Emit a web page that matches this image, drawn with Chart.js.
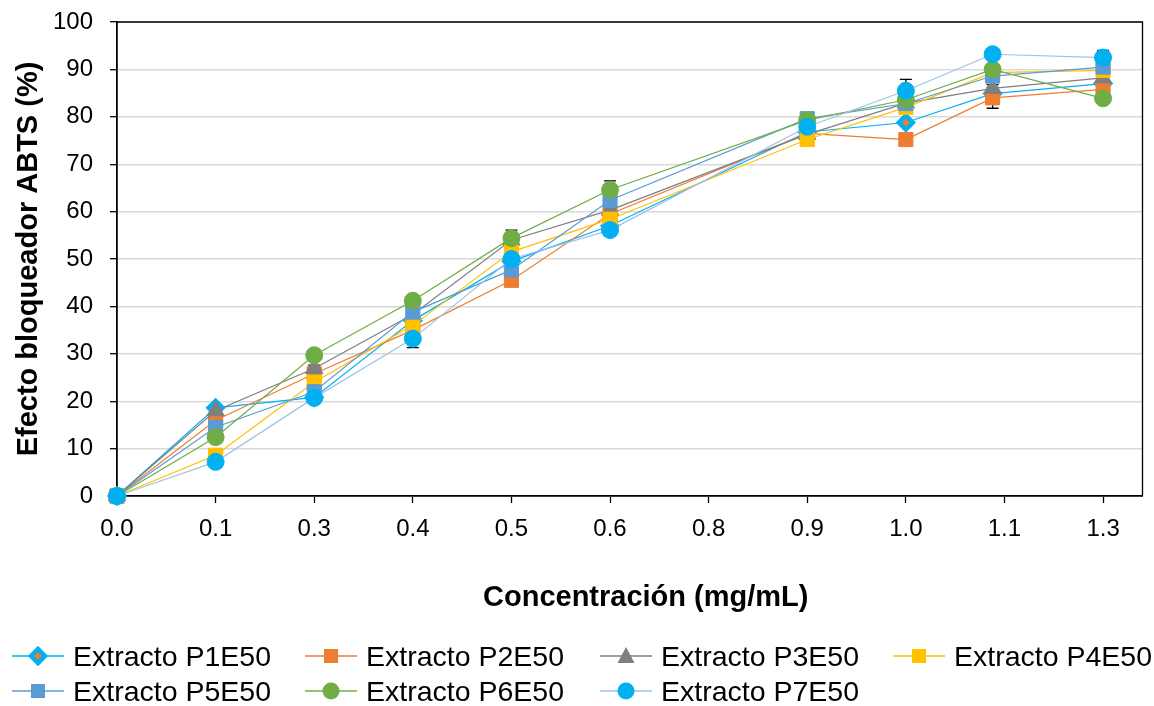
<!DOCTYPE html>
<html><head><meta charset="utf-8">
<script src="https://cdn.jsdelivr.net/npm/chart.js@4.4.1/dist/chart.umd.min.js"></script>
<style>
html,body{margin:0;padding:0;background:#fff;}
#wrap{position:relative;width:1154px;height:706px;overflow:hidden;}
#c{position:absolute;left:0;top:0;}
.lg{position:absolute;display:flex;align-items:center;font-family:'Liberation Sans',Arial,sans-serif;font-size:28.5px;color:#000;white-space:nowrap;height:32px;}
.lg canvas{margin-right:9px;}
</style></head><body>
<div id="wrap"><canvas id="c" width="1154" height="706"></canvas></div>
<script>
// ---- data ----
const concentrations = [0, 0.125, 0.25, 0.375, 0.5, 0.625, 0.875, 1.0, 1.11, 1.25];
const xTickValues = [0, 0.125, 0.25, 0.375, 0.5, 0.625, 0.75, 0.875, 1.0, 1.125, 1.25];
const xTickLabels = ['0.0','0.1','0.3','0.4','0.5','0.6','0.8','0.9','1.0','1.1','1.3'];
const seriesNames = ['Extracto P1E50','Extracto P2E50','Extracto P3E50','Extracto P4E50','Extracto P5E50','Extracto P6E50','Extracto P7E50'];
const p1E50 = [0, 18.6, 20.8, 37.0, 49.5, 57.0, 76.8, 78.8, 84.9, 87.0];
const p2E50 = [0, 16.0, 25.8, 35.0, 45.5, 59.5, 76.5, 75.2, 84.0, 85.8];
const p3E50 = [0, 18.0, 26.9, 38.3, 54.0, 60.3, 76.3, 82.9, 86.0, 88.2];
const p4E50 = [0, 8.6, 24.0, 36.0, 51.5, 58.4, 75.2, 82.0, 89.3, 89.8];
const p5E50 = [0, 14.5, 22.0, 38.8, 47.7, 62.4, 79.6, 82.8, 88.6, 90.5];
const p6E50 = [0, 12.4, 29.7, 41.2, 54.4, 64.6, 79.3, 83.6, 90.0, 83.9];
const p7E50 = [0, 7.2, 20.7, 33.2, 50.0, 56.1, 77.9, 85.5, 93.2, 92.5];
// standard deviations (error bars)
const p1Err = [0, 0.5, 0.6, 0.8, 0.8, 0.8, 0.6, 0.6, 0.8, 0.8];
const p2Err = [0, 0.6, 0.7, 0.8, 0.8, 0.8, 0.6, 0.8, 2.2, 0.8];
const p3Err = [0, 0.6, 0.7, 0.8, 0.8, 0.8, 0.6, 0.8, 0.8, 0.8];
const p4Err = [0, 0.6, 0.7, 0.8, 0.8, 0.8, 0.6, 1.0, 0.8, 0.8];
const p5Err = [0, 0.6, 0.7, 0.8, 0.8, 0.8, 0.6, 0.8, 0.8, 0.8];
const p6Err = [0, 0.8, 0.8, 0.8, 1.7, 1.9, 0.8, 0.8, 0.8, 0.8];
const p7Err = [0, 0.8, 0.8, 1.9, 0.8, 0.8, 0.8, 2.4, 0.8, 1.5];

const xTitle = 'Concentración (mg/mL)';
const yTitle = 'Efecto bloqueador ABTS (%)';

const seriesValues = [p1E50, p2E50, p3E50, p4E50, p5E50, p6E50, p7E50];
const seriesErrors = [p1Err, p2Err, p3Err, p4Err, p5Err, p6Err, p7Err];
const lineColors = ['#00B0F0','#ED7D31','#7F7F7F','#FFC000','#5B9BD5','#70AD47','#9DC3E6'];
const markerFills = ['#ED7D31','#ED7D31','#7F7F7F','#FFC000','#5B9BD5','#70AD47','#00B0F0'];
const markerBorders = ['#00B0F0','#ED7D31','#7F7F7F','#FFC000','#5B9BD5','#70AD47','#00B0F0'];
const markerStyles = ['rectRot','rect','triangle','rect','rect','circle','circle'];
const markerRadius = [7, 10, 10, 10, 10, 8.5, 8.5];
const markerBorderW = [4.5, 1, 1, 1, 1, 1, 1];

const FONT = "'Liberation Sans', Arial, sans-serif";

const datasets = seriesNames.map((name, i) => ({
  label: name,
  data: concentrations.map((c, j) => ({x: c, y: seriesValues[i][j]})),
  errors: seriesErrors[i],
  borderColor: lineColors[i],
  backgroundColor: markerFills[i],
  pointBackgroundColor: markerFills[i],
  pointBorderColor: markerBorders[i],
  pointBorderWidth: markerBorderW[i],
  pointStyle: markerStyles[i],
  pointRadius: markerRadius[i],
  pointHoverRadius: markerRadius[i],
  borderWidth: 1.2,
  tension: 0,
  fill: false,
  clip: false,
  order: 7 - i
}));

const errorBars = {
  id: 'errorBars',
  beforeDatasetsDraw(chart) {
    const {ctx, scales: {x, y}} = chart;
    ctx.save();
    ctx.strokeStyle = '#000';
    ctx.lineWidth = 1.3;
    chart.data.datasets.forEach(ds => {
      ds.data.forEach((pt, i) => {
        const e = ds.errors[i];
        if (!e) return;
        const px = x.getPixelForValue(pt.x);
        const yt = y.getPixelForValue(pt.y + e);
        const yb = y.getPixelForValue(pt.y - e);
        ctx.beginPath();
        ctx.moveTo(px, yt); ctx.lineTo(px, yb);
        ctx.moveTo(px - 6, yt); ctx.lineTo(px + 6, yt);
        ctx.moveTo(px - 6, yb); ctx.lineTo(px + 6, yb);
        ctx.stroke();
      });
    });
    ctx.restore();
  }
};

const frame = {
  id: 'frame',
  beforeDatasetsDraw(chart) {
    const {ctx, chartArea: a} = chart;
    ctx.save();
    ctx.strokeStyle = '#000';
    ctx.lineWidth = 1.3;
    ctx.beginPath();
    ctx.moveTo(a.left, a.top); ctx.lineTo(a.right, a.top); ctx.lineTo(a.right, a.bottom);
    ctx.stroke();
    ctx.restore();
  },
  afterDraw(chart) {
    // x-axis title, offset to the right like the original
    const {ctx, chartArea: a} = chart;
    ctx.save();
    ctx.font = "bold 29px " + FONT;
    ctx.fillStyle = '#000';
    ctx.textAlign = 'center';
    ctx.textBaseline = 'middle';
    ctx.fillText(xTitle, (a.left + a.right) / 2 + 16, 598);
    ctx.restore();
  }
};

const chart = new Chart(document.getElementById('c'), {
  type: 'line',
  data: {datasets},
  plugins: [errorBars, frame],
  options: {
    responsive: false,
    animation: false,
    devicePixelRatio: 1,
    layout: {padding: {left: 0, right: 11, top: 22, bottom: 86}},
    plugins: {legend: {display: false}, tooltip: {enabled: false}},
    scales: {
      x: {
        type: 'linear', min: 0, max: 1.3,
        afterBuildTicks: s => { s.ticks = xTickValues.map(v => ({value: v})); },
        afterFit: s => { s.height = 124; },
        ticks: {
          autoSkip: false, maxRotation: 0, padding: 12,
          font: {family: FONT, size: 24}, color: '#000',
          callback: (v, i) => xTickLabels[i]
        },
        grid: {drawOnChartArea: false, drawTicks: true, tickLength: 7, tickColor: '#000', tickWidth: 1.3},
        border: {color: '#000', width: 1.8},
        title: {display: false}
      },
      y: {
        min: 0, max: 100,
        afterFit: s => { s.width = 117; s.paddingTop = 0; s.paddingBottom = 0; },
        ticks: {stepSize: 10, padding: 17, font: {family: FONT, size: 24}, color: '#000'},
        grid: {color: '#D9D9D9', lineWidth: 1.4, drawTicks: true, tickLength: 7, tickColor: '#000', tickWidth: 1.3},
        border: {color: '#000', width: 1.8},
        title: {display: true, text: yTitle, color: '#000',
                font: {family: FONT, size: 29, weight: 'bold'}, padding: {top: 12, bottom: 0}}
      }
    }
  }
});

// ---- HTML legend built from the chart's datasets ----
function drawIcon(i) {
  const cv = document.createElement('canvas');
  cv.width = 52; cv.height = 26;
  const g = cv.getContext('2d');
  g.strokeStyle = lineColors[i]; g.lineWidth = 1.5;
  g.beginPath(); g.moveTo(0, 13); g.lineTo(52, 13); g.stroke();
  const cx = 26, cy = 13;
  g.fillStyle = markerFills[i]; g.strokeStyle = markerBorders[i];
  const st = markerStyles[i];
  g.beginPath();
  if (st === 'circle') { g.arc(cx, cy, 8.5, 0, Math.PI * 2); g.fill(); }
  else if (st === 'rect') { g.rect(cx - 7, cy - 7, 14, 14); g.fill(); }
  else if (st === 'triangle') { g.moveTo(cx, cy - 9); g.lineTo(cx + 8.5, cy + 7); g.lineTo(cx - 8.5, cy + 7); g.closePath(); g.fill(); }
  else if (st === 'rectRot') {
    g.moveTo(cx, cy - 7); g.lineTo(cx + 7, cy); g.lineTo(cx, cy + 7); g.lineTo(cx - 7, cy); g.closePath();
    g.fill(); g.lineWidth = 4.5; g.stroke();
  }
  return cv;
}
const colX = [12, 305, 600, 893];
const rowY = [640, 675];
chart.data.datasets.forEach((ds, i) => {
  const d = document.createElement('div');
  d.className = 'lg';
  d.style.left = colX[i % 4] + 'px';
  d.style.top = rowY[Math.floor(i / 4)] + 'px';
  d.appendChild(drawIcon(i));
  const s = document.createElement('span');
  s.textContent = ds.label;
  d.appendChild(s);
  document.getElementById('wrap').appendChild(d);
});
</script>
</body></html>
